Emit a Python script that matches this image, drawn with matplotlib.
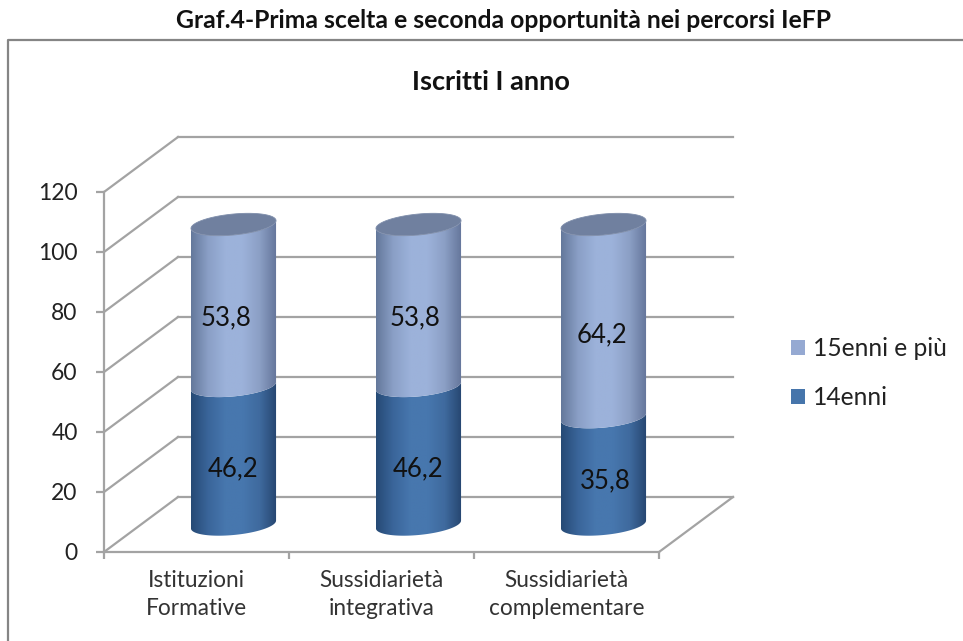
import numpy as np
import matplotlib
matplotlib.use('Agg')
import matplotlib.pyplot as plt
from matplotlib.colors import LinearSegmentedColormap
from matplotlib.lines import Line2D
from matplotlib.patches import Patch, Polygon

plt.rcParams['font.family'] = ['Lato', 'DejaVu Sans']

categories = ['Istituzioni\nFormative', 'Sussidiarietà\nintegrativa', 'Sussidiarietà\ncomplementare']
val_14 = [46.2, 46.2, 35.8]
val_15 = [53.8, 53.8, 64.2]
yticks = [0, 20, 40, 60, 80, 100, 120]
label_14 = ['46,2', '46,2', '35,8']
label_15 = ['53,8', '53,8', '64,2']

W, H = 963, 641
GRID = '#a3a3a3'
DX, DY = 0.4, 18.33        # depth of the fake 3d box, in data units
RX, RY, TILT = 0.23, 3.5, 1.3   # cylinder ellipse

cm_dark = LinearSegmentedColormap.from_list('d', ['#264a75', '#3a659a', '#4777ae', '#4777ae', '#3f6a9e', '#264670'])
cm_light = LinearSegmentedColormap.from_list('l', ['#64789b', '#8a9fc6', '#9cb2da', '#9cb2da', '#8b9fc5', '#64759a'])

fig = plt.figure(figsize=(W / 100, H / 100), dpi=100)
ax = fig.add_axes([104 / W, (H - 552) / H, 555 / W, 360 / H])


def arc(cx, cy, t0, t1):
    t = np.linspace(t0, t1, 60)
    return np.column_stack([cx + RX * np.cos(t), cy + RY * np.sin(t) + TILT * np.cos(t)])


def segment(cx, y0, y1, cmap):
    front0 = arc(cx, y0, np.pi, 2 * np.pi)
    front1 = arc(cx, y1, 2 * np.pi, np.pi)
    poly = Polygon(np.vstack([front0, front1]), closed=True, transform=ax.transData, fc='none', ec='none')
    ax.add_patch(poly)
    im = ax.imshow(np.linspace(0, 1, 256).reshape(1, -1), cmap=cmap, aspect='auto', zorder=3,
                   extent=[cx - RX, cx + RX, y0 - 10, y1 + 10], interpolation='bilinear')
    im.set_clip_path(poly)


# back wall, side wall and floor
for v in yticks:
    ax.plot([DX, 3 + DX], [v + DY, v + DY], color=GRID, lw=1.6, clip_on=False, zorder=1)
    ax.plot([0, DX], [v, v + DY], color=GRID, lw=1.6, clip_on=False, zorder=1)
ax.plot([3, 3 + DX], [0, DY], color=GRID, lw=1.6, clip_on=False, zorder=1)

# stacked cylinders
base = DY / 2
for i in range(len(categories)):
    cx = i + 0.5 + DX / 2
    top14 = base + val_14[i]
    top15 = top14 + val_15[i]
    segment(cx, base, top14, cm_dark)
    segment(cx, top14, top15, cm_light)
    cap = Polygon(arc(cx, top15, 0, 2 * np.pi), closed=True, fc='#70809f', ec='#7f8eab', lw=0.6, zorder=4)
    ax.add_patch(cap)

label_off_14 = [(0, -14), (0, -14), (2, -10)]
label_off_15 = [(-7, -13), (-3, -13), (-2, -14)]
for i in range(len(categories)):
    cx = i + 0.5 + DX / 2
    mid14 = base + val_14[i] / 2
    mid15 = base + val_14[i] + val_15[i] / 2
    ax.annotate(label_14[i], (cx, mid14), xytext=(label_off_14[i][0] * 0.72, label_off_14[i][1] * 0.72),
                textcoords='offset points', ha='center', va='center', fontsize=18.5, color='#111111', zorder=5)
    ax.annotate(label_15[i], (cx, mid15), xytext=(label_off_15[i][0] * 0.72, label_off_15[i][1] * 0.72),
                textcoords='offset points', ha='center', va='center', fontsize=18.5, color='#111111', zorder=5)

ax.set_xlim(0, 3)
ax.set_ylim(0, 120)
ax.patch.set_alpha(0)
for s in ['top', 'right']:
    ax.spines[s].set_visible(False)
for s in ['left', 'bottom']:
    ax.spines[s].set_color(GRID)
    ax.spines[s].set_linewidth(1.6)
ax.set_yticks(yticks)
ax.tick_params(axis='y', length=6, width=1.6, color=GRID, labelsize=16.5, labelcolor='#222222', pad=13)
ax.set_xticks([0, 1, 2, 3])
ax.set_xticklabels([])
ax.set_xticks([0.5, 1.5, 2.5], minor=True)
ax.set_xticklabels(categories, minor=True, fontsize=16.3, color='#333333', linespacing=1.42)
ax.tick_params(axis='x', which='major', length=5, width=1.6, color=GRID)
ax.tick_params(axis='x', which='minor', length=0, pad=13)

handles = [Patch(fc='#95a9d2', ec='none', label='15enni e più'), Patch(fc='#4675ab', ec='none', label='14enni')]
fig.legend(handles=handles, loc='center left', bbox_to_anchor=(769 / W, 1 - 373 / H), frameon=False,
           fontsize=17.7, handlelength=0.57, handleheight=0.57, handletextpad=0.33, labelspacing=1.06,
           labelcolor='#222222')

fig.add_artist(Line2D([8 / W, 8 / W, 1], [0, 1 - 40 / H, 1 - 40 / H], color='#858585', lw=1.6))
fig.text(503 / W, 1 - 21 / H, 'Graf.4-Prima scelta e seconda opportunità nei percorsi IeFP',
         ha='center', va='center', fontsize=17.8, fontweight='bold', color='#111111')
fig.text(491 / W, 1 - 82 / H, 'Iscritti I anno', ha='center', va='center', fontsize=19.5,
         fontweight='bold', color='#111111')

fig.savefig('out.png', dpi=100)
